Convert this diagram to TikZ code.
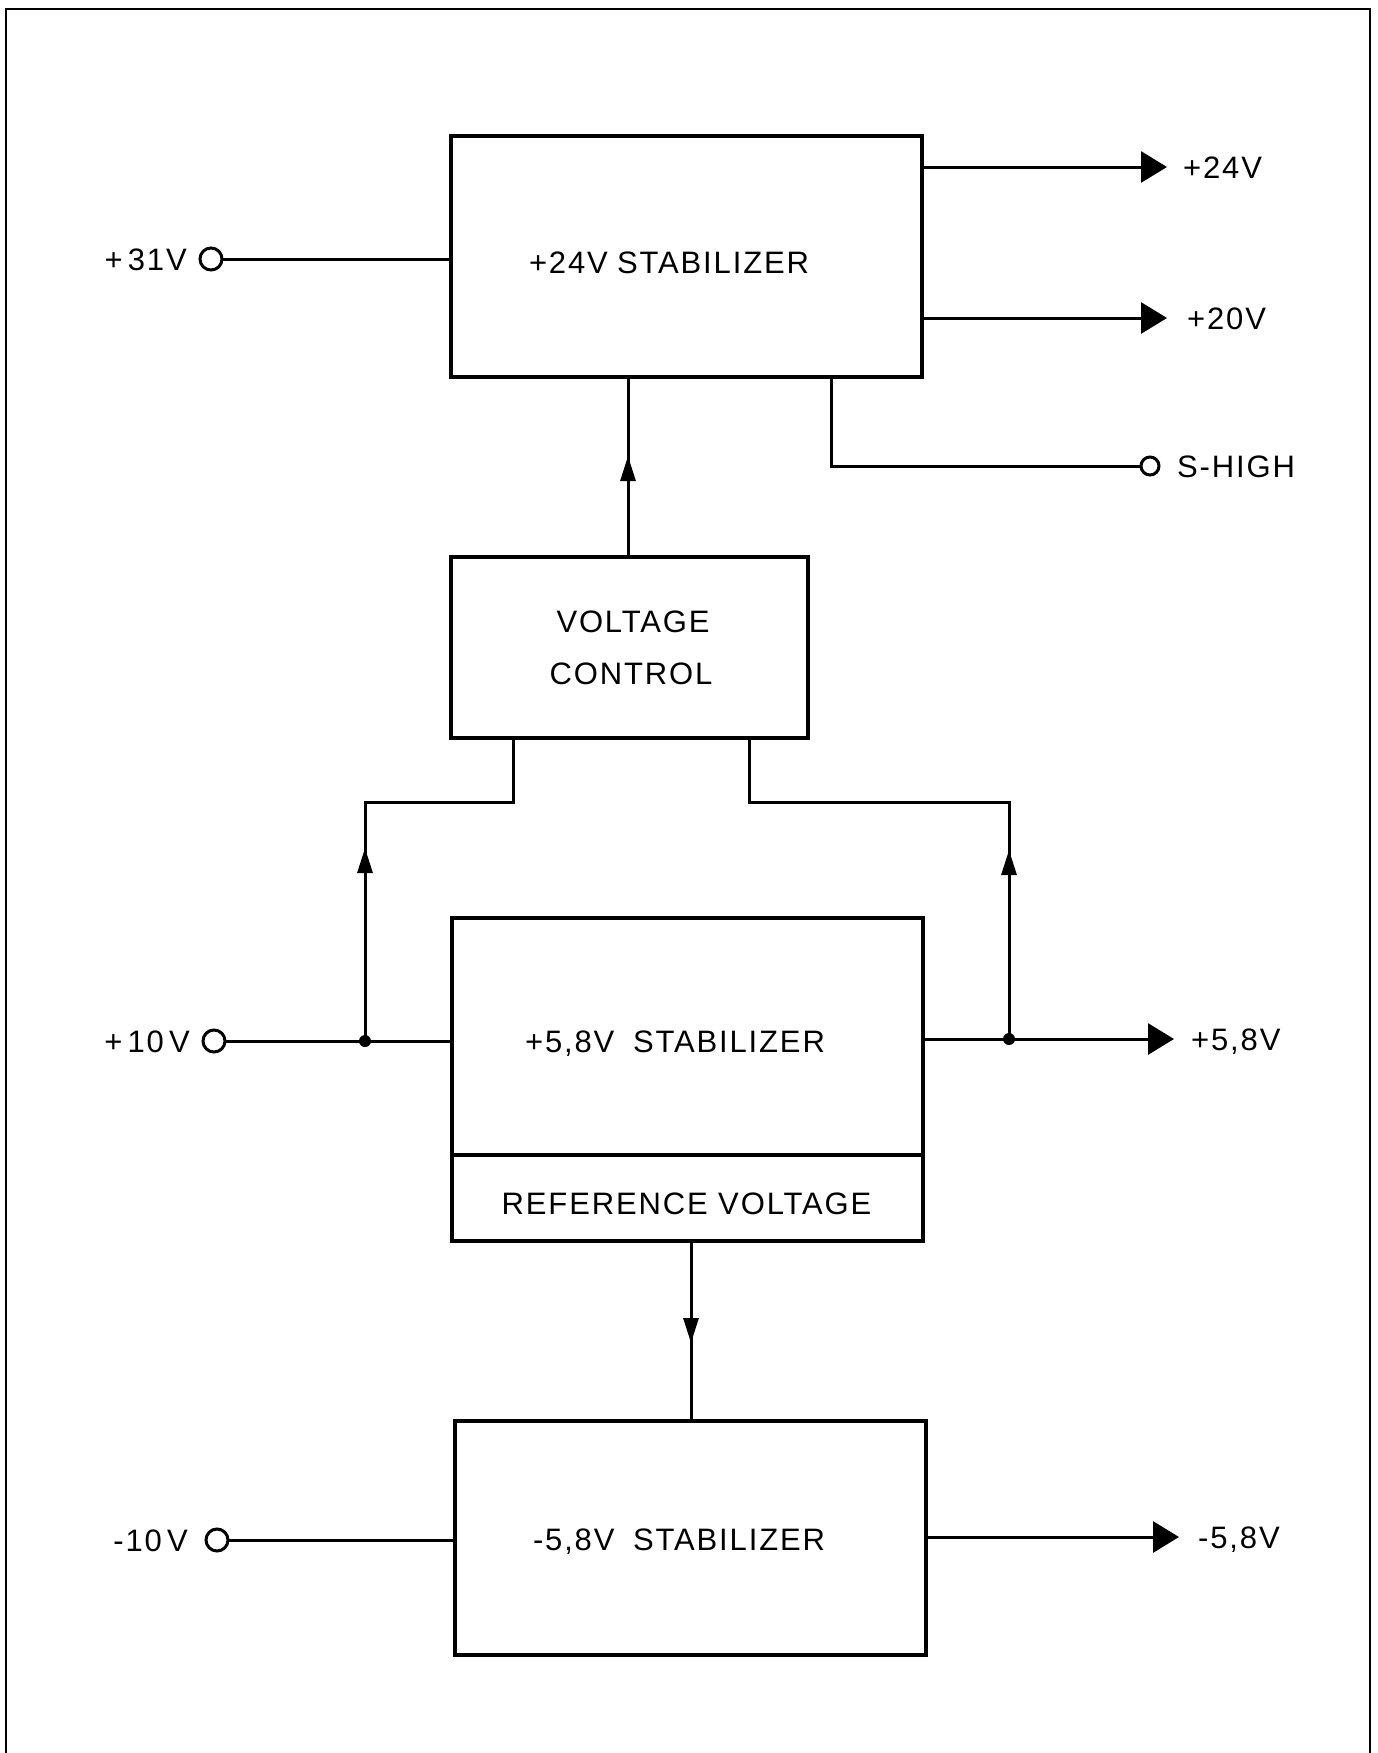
\documentclass[tikz,border=0pt]{standalone}
\usepackage{fontspec}
\setmainfont{Liberation Sans}[LetterSpace=6]
\usetikzlibrary{arrows.meta,decorations.markings}
\begin{document}
\begin{tikzpicture}[x=1pt,y=-1pt,
  box/.style={draw,line width=4pt,rectangle,inner sep=0pt,outer sep=0pt},
  txt/.style={font=\fontsize{31}{36}\selectfont,inner sep=0pt,text height=22pt,text depth=0pt},
  term/.style={circle,draw,line width=3pt,minimum size=#1,inner sep=0pt,outer sep=0pt},
  term/.default=22pt,
  dot/.style={circle,fill,minimum size=12pt,inner sep=0pt},
  conn/.style={line width=3pt},
  outarr/.style={-{Triangle[length=26pt,width=31pt]}},
  midarr/.style={postaction={decorate,decoration={markings,mark=at position #1 with {\arrow{Triangle[length=25pt,width=15pt]}}}}}
]
\useasboundingbox (0,0) rectangle (1377,1753);
\fill[white] (0,0) rectangle (1377,1753);
% frame
\draw[line width=2pt] (6,1753) -- (6,9) -- (1370,9) -- (1370,1753);

% blocks
\node[box,minimum width=471pt,minimum height=241pt] (top) at (686.5,256.5) {};
\node[txt] (ttop) at (669,262) {+24V\hspace{0.3em}STABILIZER};
\node[box,minimum width=357pt,minimum height=181pt] (vc) at (629.5,647.5) {};
\node[txt] (tvc1) at (633,621) {VOLTAGE};
\node[txt] (tvc2) at (631,673) {CONTROL};
\node[box,minimum width=471pt,minimum height=237pt] (st58) at (687.5,1036.5) {};
\node[box,minimum width=471pt,minimum height=86pt] (ref) at (687.5,1198) {};
\node[txt] (tst58) at (675,1041) {+5,8V\hspace{0.6em}STABILIZER};
\node[txt] (tref) at (686.5,1203) {REFERENCE VOLTAGE};
\node[box,minimum width=471pt,minimum height=234pt] (stn) at (690.5,1538) {};
\node[txt] (tstn) at (679,1539) {-5,8V\hspace{0.6em}STABILIZER};

% +31V input
\node[term] (c31) at (211,259) {};
\node[txt,anchor=east] (l31) at (187,259) {+\,31V};
\draw[conn] (c31.east) -- (c31.east -| top.west);

% outputs of top block
\coordinate (o24) at (1167,167);
\draw[conn,outarr] (o24 -| top.east) -- (o24);
\node[txt,anchor=west] (l24) at (1183,167) {+24V};
\coordinate (o20) at (1167,318);
\draw[conn,outarr] (o20 -| top.east) -- (o20);
\node[txt,anchor=west] (l20) at (1187,318) {+20V};
\coordinate (sh) at (831,466);
\node[term=18pt] (csh) at (1150,466) {};
\draw[conn] (sh |- top.south) -- (sh) -- (csh.west);
\node[txt,anchor=west] (lsh) at (1177,466) {S-HIGH};

% voltage control to top block
\coordinate (xvc) at (628,0);
\draw[conn,midarr=101pt] (vc.north -| xvc) -- (xvc |- top.south);

% +10V input with junction
\node[term] (c10) at (214,1041) {};
\node[txt,anchor=east] (l10) at (190,1041) {+\,10\,V};
\node[dot] (j1) at (365,1041) {};
\draw[conn] (c10.east) -- (c10.east -| st58.west);
\coordinate (lk) at (365,802);
\coordinate (lv) at (513,802);
\draw[conn,midarr=193pt] (j1.center) -- (lk) -- (lv) -- (lv |- vc.south);

% +5,8V output with junction
\node[dot] (j2) at (1009,1039) {};
\coordinate (o58) at (1174,1039);
\draw[conn,outarr] (o58 -| st58.east) -- (o58);
\node[txt,anchor=west] (l58) at (1191,1039) {+5,8V};
\coordinate (rk) at (1009,802);
\coordinate (rv) at (749,802);
\draw[conn,midarr=189pt] (j2.center) -- (rk) -- (rv) -- (rv |- vc.south);

% reference voltage to -5,8V stabilizer
\coordinate (dx) at (691,0);
\draw[conn,midarr=102pt] (ref.south -| dx) -- (stn.north -| dx);

% -10V input and -5,8V output
\node[term] (cm10) at (217,1540) {};
\node[txt,anchor=east] (lm10) at (188,1540) {-10\,V};
\draw[conn] (cm10.east) -- (cm10.east -| stn.west);
\coordinate (om58) at (1179,1537);
\draw[conn,outarr] (om58 -| stn.east) -- (om58);
\node[txt,anchor=west] (lm58) at (1198,1537) {-5,8V};
\end{tikzpicture}
\end{document}
